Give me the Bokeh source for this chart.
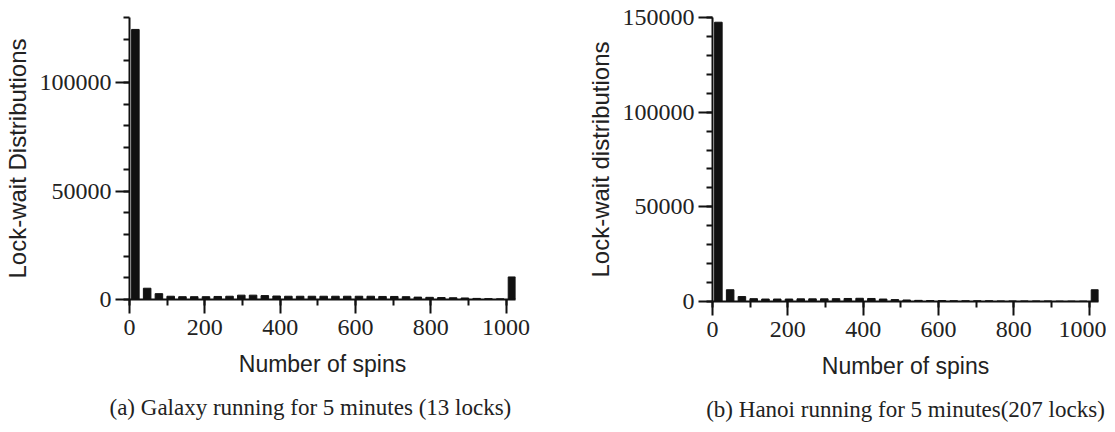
from bokeh.plotting import figure
from bokeh.layouts import row
from bokeh.models import Range1d, SingleIntervalTicker, Title, NumeralTickFormatter
from bokeh.embed import file_html
from bokeh.resources import INLINE

# ---- data ----
bin_width = 31.25
n_bins = 33
spins = [(k + 0.5) * bin_width for k in range(n_bins)]  # bin centres (last bin = >=1000)

galaxy_counts = [124500, 5200, 2700, 1500, 1300, 1300, 1300, 1400, 1500, 2000,
                 2000, 1800, 1600, 1500, 1500, 1500, 1500, 1500, 1500, 1500,
                 1500, 1400, 1400, 1300, 1100, 1000, 900, 800, 700, 500,
                 400, 300, 10400]

hanoi_counts = [147500, 6200, 2600, 1500, 1300, 1300, 1300, 1400, 1400, 1400,
                1500, 1600, 1700, 1600, 1300, 1000, 800, 600, 500, 500,
                400, 400, 400, 400, 300, 300, 300, 300, 300, 200,
                200, 200, 6200]

captions = ["(a) Galaxy running for 5 minutes (13 locks)",
            "(b) Hanoi running for 5 minutes(207 locks)"]
ylabels = ["Lock-wait Distributions", "Lock-wait distributions"]
xlabel = "Number of spins"
ymax = [130000, 150000]

SERIF = "Liberation Serif"
SANS = "Liberation Sans"
BG = "#ffffff"


def make_panel(counts, ylabel, caption, y_end, fw, fh, bl, br, bt, bb, cap_align, cap_offset):
    p = figure(frame_width=fw, frame_height=fh, output_backend="svg", toolbar_location=None,
               x_range=Range1d(0, 1025), y_range=Range1d(0, y_end),
               min_border_left=bl, min_border_right=br, min_border_top=bt, min_border_bottom=bb,
               background_fill_color=BG, border_fill_color=BG, outline_line_color=None)
    p.vbar(x=spins, top=counts, width=20, bottom=0, fill_color="#111111", line_color="#111111")
    p.grid.visible = False

    p.xaxis.ticker = SingleIntervalTicker(interval=200, num_minor_ticks=2)
    p.yaxis.ticker = SingleIntervalTicker(interval=50000, num_minor_ticks=5)
    p.yaxis.formatter = NumeralTickFormatter(format="0")
    for ax in (p.xaxis, p.yaxis):
        ax.axis_line_width = 2
        ax.axis_line_color = "#111111"
        ax.major_tick_line_width = 2
        ax.major_tick_line_color = "#111111"
        ax.minor_tick_line_width = 2
        ax.minor_tick_line_color = "#111111"
        ax.major_tick_in = 0
        ax.minor_tick_in = 0
        ax.major_tick_out = 14
        ax.minor_tick_out = 6
        ax.major_label_text_font = SERIF
        ax.major_label_text_font_size = "24px"
        ax.major_label_text_color = "#222222"
        ax.axis_label_text_font = SANS
        ax.axis_label_text_font_style = "normal"
        ax.axis_label_text_color = "#222222"
        ax.axis_label_text_font_size = "23px"
    p.xaxis.axis_label = xlabel
    p.yaxis.axis_label = ylabel
    p.yaxis.axis_label_text_font_size = "24px"
    p.yaxis.major_label_standoff = 4
    p.xaxis.major_label_standoff = 6
    p.xaxis.axis_label_standoff = 13
    p.yaxis.axis_label_standoff = 6

    t = Title(text=caption, align=cap_align, offset=cap_offset, text_font=SERIF,
              text_font_size="23px", text_font_style="normal", text_color="#222222", standoff=27)
    p.add_layout(t, "below")
    return p


left = make_panel(galaxy_counts, ylabels[0], captions[0], ymax[0],
                  fw=386, fh=282, bl=119, br=46, bt=17, bb=100, cap_align="left", cap_offset=-20)
right = make_panel(hanoi_counts, ylabels[1], captions[1], ymax[1],
                   fw=386, fh=284, bl=151, br=8, bt=17, bb=100, cap_align="center", cap_offset=0)

layout = row(left, right)
open("out.html", "w").write(file_html(layout, INLINE))
